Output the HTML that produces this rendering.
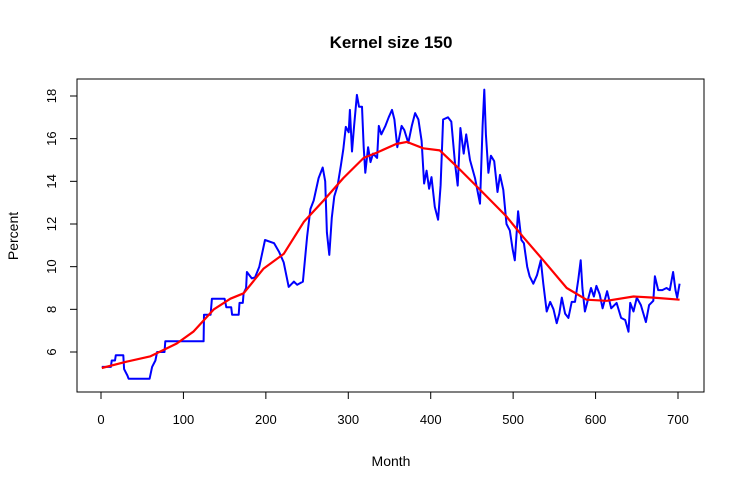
<!DOCTYPE html>
<html><head><meta charset="utf-8"><style>
html,body{margin:0;padding:0;background:#fff;}
svg{display:block;font-family:"Liberation Sans",Arial,sans-serif;}
</style></head><body>
<svg id="chart" width="744" height="489" viewBox="0 0 744 489" xmlns="http://www.w3.org/2000/svg">
<rect width="744" height="489" fill="#fff"/>
<text x="391" y="48" text-anchor="middle" font-size="17" font-weight="bold">Kernel size 150</text>
<text x="391" y="466" text-anchor="middle" font-size="14">Month</text>
<text transform="translate(18,236) rotate(-90)" text-anchor="middle" font-size="14">Percent</text>
<rect x="77" y="79" width="627" height="313" fill="none" stroke="#000" stroke-width="1"/>
<g id="xaxis"></g>
<g id="yaxis"></g>
<g id="series"></g>
</svg>
<script>
const xTicks = [0,100,200,300,400,500,600,700];
const yTicks = [6,8,10,12,14,16,18];
const rawMonths = [1,12,13,17,18,27,28,32,33.5,59,62,66,68,77,78,124.5,125,133,134.5,150,152,158,159,167,168,172,173,176,177,183,187,192,199,210,216,221.6,227.7,234,238,245,250,254,258,264,269,272,274,277,280,283,287,291,294,297,300.5,302,304.5,307,310.5,313,316.6,318.7,320.7,324,327,330,335,337,340,345,349,353,356,359.5,364.7,368,372.8,377,381,385,389,392,395,398,401,405,409,412,415,421,425,429.5,432.7,436,440,443,447.6,453.7,459.8,463,465,467,470,473,477,481,484,488,492,496,499.5,502,506,510,513,517,520,524.5,529,533.5,536.6,540.7,545,549,552.8,556,559,563,567,571,575,579,582,584,587,591,594.5,598,601,605,608.5,614,619,625.5,631,636,640,642,646,650,655,661,665,670,672,676,681,686,690,694,697,699,702];
const rawValues = [5.3,5.3,5.6,5.6,5.85,5.85,5.2,4.9,4.75,4.75,5.3,5.6,6.0,6.0,6.5,6.5,7.75,7.75,8.5,8.5,8.1,8.1,7.75,7.75,8.3,8.3,8.75,9.0,9.75,9.45,9.5,10.0,11.25,11.1,10.7,10.2,9.05,9.3,9.15,9.3,11.4,12.7,13.1,14.15,14.65,14.0,11.6,10.55,12.3,13.3,13.8,14.75,15.5,16.55,16.3,17.35,15.4,16.6,18.05,17.5,17.5,15.6,14.4,15.6,14.9,15.3,15.1,16.6,16.2,16.6,17.0,17.35,16.9,15.6,16.6,16.4,15.8,16.6,17.2,16.9,15.9,13.9,14.5,13.65,14.2,12.8,12.2,13.8,16.9,17.0,16.8,14.85,13.8,16.5,15.3,16.2,15.0,14.15,12.95,16.6,18.3,16.2,14.4,15.2,14.95,13.5,14.3,13.6,12.0,11.7,10.8,10.3,12.6,11.25,11.1,10.0,9.55,9.2,9.6,10.3,9.2,7.9,8.35,8.0,7.35,7.8,8.55,7.8,7.6,8.35,8.35,9.4,10.3,9.0,7.9,8.5,9.0,8.6,9.1,8.7,8.05,8.85,8.05,8.3,7.6,7.5,6.95,8.3,7.9,8.55,8.2,7.4,8.2,8.4,9.55,8.9,8.9,9.0,8.9,9.75,8.9,8.55,9.2];
const smoothMonths = [1,31.5,60,92,112,137,157,173,197,221.6,246,270,294,318.7,335,358,371,391,411,431.5,460,492,512,536.6,565,589,613.5,646,670,702];
const smoothValues = [5.25,5.55,5.8,6.4,6.95,8.0,8.5,8.75,9.9,10.6,12.1,13.1,14.15,15.1,15.35,15.75,15.85,15.55,15.45,14.7,13.6,12.35,11.4,10.3,9.0,8.45,8.4,8.6,8.55,8.45];

const NS='http://www.w3.org/2000/svg';
const sx = m => 101 + m*(577/700);
const sy = v => 352 - (v-6)*(256/12);
function mk(tag, attrs, parent){const e=document.createElementNS(NS,tag);for(const k in attrs)e.setAttribute(k,attrs[k]);parent.appendChild(e);return e;}
const xa=document.getElementById('xaxis'), ya=document.getElementById('yaxis'), sg=document.getElementById('series');
mk('line',{x1:sx(xTicks[0]),x2:sx(xTicks[xTicks.length-1]),y1:392,y2:392,stroke:'#000'},xa);
xTicks.forEach(t=>{
  const l=mk('line',{x1:sx(t),x2:sx(t),y1:392,y2:399,stroke:'#000'},xa);
  
  
  const tx=mk('text',{x:sx(t),y:424,'text-anchor':'middle','font-size':'13'},xa);
  tx.textContent=t;
  
  
});
mk('line',{x1:77,x2:77,y1:sy(yTicks[0]),y2:sy(yTicks[yTicks.length-1]),stroke:'#000'},ya);
yTicks.forEach(t=>{
  const l=mk('line',{x1:70,x2:77,y1:sy(t),y2:sy(t),stroke:'#000'},ya);
  
  
  const tx=mk('text',{x:0,y:0,'text-anchor':'middle','font-size':'13',transform:`translate(56,${sy(t)}) rotate(-90)`},ya);
  tx.textContent=t;
  
  
});
function pts(ms,vs){return ms.map((m,i)=>sx(m).toFixed(1)+','+sy(vs[i]).toFixed(1)).join(' ');}
const raw=mk('polyline',{points:pts(rawMonths,rawValues),fill:'none',stroke:'#0000ff','stroke-width':'2','stroke-linejoin':'round'},sg);


const sm=mk('polyline',{points:pts(smoothMonths,smoothValues),fill:'none',stroke:'#ff0000','stroke-width':'2.2','stroke-linejoin':'round'},sg);


</script>
</body></html>
